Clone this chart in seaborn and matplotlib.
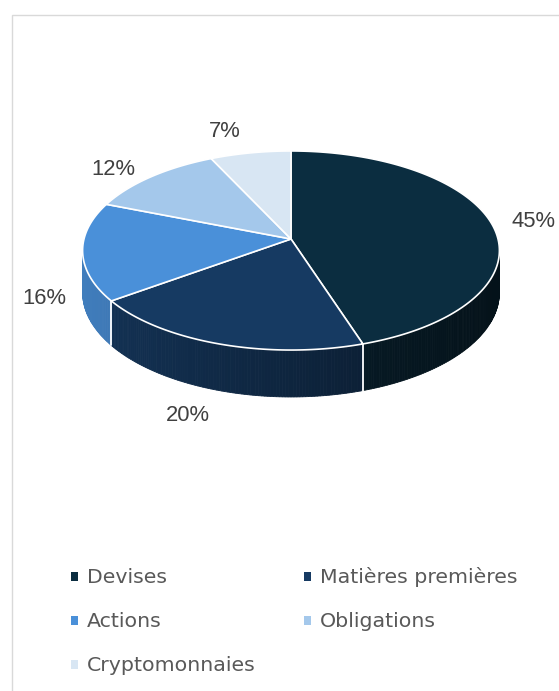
import numpy as np
import matplotlib
matplotlib.use("Agg")
import matplotlib.pyplot as plt
import seaborn as sns
from matplotlib.patches import Patch, Polygon
import matplotlib.colors as mcolors

# ---------------- data ----------------
categories = ["Devises", "Matières premières", "Actions", "Obligations", "Cryptomonnaies"]
values = [45, 20, 16, 12, 7]
slice_colors = ["#0B2D40", "#163A62", "#4A90D9", "#A4C8EB", "#D8E6F3"]

# ---------------- style ----------------
sns.set_theme(style="white")
plt.rcParams['font.family'] = ['DejaVu Sans']
palette = sns.color_palette(slice_colors)

W, H = 559, 691
fig = plt.figure(figsize=(W / 100, H / 100), dpi=100)
ax = fig.add_axes([0, 0, 1, 1])
ax.set_xlim(0, W)
ax.set_ylim(H, 0)
ax.axis('off')

# chart border (only left and top visible in the crop)
ax.plot([11.5, 11.5, W + 10], [H + 10, 14.5, 14.5], color="#D9D9D9", lw=1.0,
        solid_joinstyle='miter', zorder=0)

# perspective pie geometry
CX, CY, A, B, K, D = 291, 239, 207, 98.2, 0.1156, 41.5


def proj(phi, r=1.0, drop=0.0):
    u = r * np.sin(phi)
    v = -r * np.cos(phi)
    w = 1 - K * v
    return CX + A * u / w, CY + (B * v + drop) / w


fracs = np.array(values, dtype=float) / sum(values)
edges = np.concatenate([[0.0], np.cumsum(fracs)]) * 2 * np.pi
phiR = np.arccos(-K)
phiL = 2 * np.pi - phiR


def shade(x):
    return 0.86 - 0.46 * (x - 90) / 410


# sides
for i, col in enumerate(palette):
    a0 = max(edges[i], phiR)
    a1 = min(edges[i + 1], phiL)
    if a1 <= a0:
        continue
    n = max(2, int((a1 - a0) / (2 * np.pi) * 500))
    ph = np.linspace(a0, a1, n + 1)
    for j in range(n):
        xt0, yt0 = proj(ph[j])
        xt1, yt1 = proj(ph[j + 1])
        xb1, yb1 = proj(ph[j + 1], drop=D)
        xb0, yb0 = proj(ph[j], drop=D)
        f = np.clip(shade(0.5 * (xt0 + xt1)), 0.3, 1.0)
        c = tuple(np.array(mcolors.to_rgb(col)) * f)
        ax.add_patch(Polygon([(xt0, yt0), (xt1, yt1), (xb1, yb1), (xb0, yb0)],
                             closed=True, facecolor=c, edgecolor=c, lw=0.6, zorder=1))

# white separators on the side
for e in edges[1:-1]:
    if phiR < e < phiL:
        xt, yt = proj(e)
        xb, yb = proj(e, drop=D)
        ax.plot([xt, xb], [yt, yb], color="white", lw=1.3, zorder=2)

# top faces
for i, col in enumerate(palette):
    ph = np.linspace(edges[i], edges[i + 1], 200)
    pts = [(CX, CY)] + [proj(p) for p in ph]
    ax.add_patch(Polygon(pts, closed=True, facecolor=col, edgecolor="white",
                         lw=1.2, joinstyle='round', zorder=3))

# data labels
label_nudge = [(2, 1), (-15, 0), (4, 2), (-12, 4), (-19, -6)]
for i, v in enumerate(values):
    mid = 0.5 * (edges[i] + edges[i + 1])
    vv = -np.cos(mid)
    x, y = proj(mid, r=1.2)
    if vv > 0:
        y += D / (1 - K * vv * 1.2)
    x += label_nudge[i][0]
    y += label_nudge[i][1]
    ax.text(x, y, f"{v / sum(values) * 100:.0f}%", ha="center", va="center",
            fontsize=15.8, color="#404040", family=["Liberation Sans", "DejaVu Sans"],
            zorder=4)

# legend (row-major order with 2 columns)
handles = [Patch(facecolor=palette[i], edgecolor="none", label=categories[i])
           for i in range(len(categories))]
order = [0, 2, 4, 1, 3]
leg = ax.legend(handles=[handles[i] for i in order], loc="upper left",
                bbox_to_anchor=(53 / W, 1 - 549 / H), ncol=2, frameon=False,
                fontsize=14.76, handlelength=0.34, handleheight=0.3,
                handletextpad=0.42, columnspacing=2.35, labelspacing=1.22,
                borderpad=0.4)
for t in leg.get_texts():
    t.set_color("#595959")

fig.savefig("out.png", dpi=100, facecolor="white")
